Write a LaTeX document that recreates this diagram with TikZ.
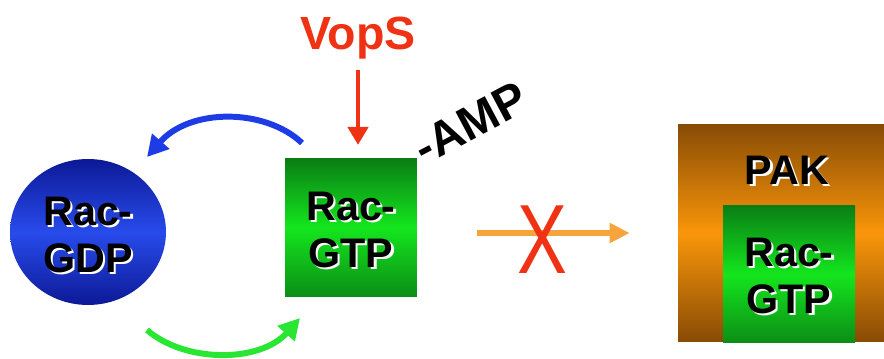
\documentclass[tikz,border=0pt]{standalone}
\usepackage{fontspec}
\setmainfont{Liberation Sans}
\usetikzlibrary{shapes.geometric,arrows.meta}
\definecolor{gdpdark}{RGB}{12,25,150}
\definecolor{gdplight}{RGB}{40,75,235}
\definecolor{gtpdark}{RGB}{10,125,20}
\definecolor{gtplight}{RGB}{20,230,30}
\definecolor{pakdark}{RGB}{135,75,5}
\definecolor{paklight}{RGB}{250,150,10}
\definecolor{arcblue}{RGB}{30,60,230}
\definecolor{arcgreen}{RGB}{40,230,50}
\definecolor{vopsred}{RGB}{240,50,20}
\definecolor{blockorange}{RGB}{245,165,60}
% white drop shadow behind a line of text
\newcommand{\shd}[1]{\makebox[0pt][l]{\kern1.3pt\raisebox{-1.3pt}{\color{white}#1}}#1}
\begin{document}
\begin{tikzpicture}[x=0.02cm,y=0.02cm,
  lbl/.style={font=\fontsize{23.5}{26.5}\selectfont\bfseries, align=center, text=black, inner sep=0pt},
  gtpbox/.style={rectangle, inner sep=0pt, minimum width=2.64cm, minimum height=2.77cm,
    shading=axis, top color=gtpdark, bottom color=gtpdark!85!gtplight, middle color=gtplight},
  cyclearc/.style={line width=3.4pt, -{Triangle[length=0.42cm,width=0.44cm]}},
  blockarrow/.style={line width=3.4pt, -{Triangle[length=0.4cm,width=0.38cm]}}]
\useasboundingbox (0,0) rectangle (884,358);
% Rac-GDP and Rac-GTP
\node[ellipse, inner sep=0pt, minimum width=3.12cm, minimum height=2.92cm,
  shading=axis, top color=gdpdark, bottom color=gdpdark, middle color=gdplight] (gdp) at (88,126) {};
\node[lbl] at (88,122) {\shd{Rac-}\\\shd{GDP}};
\node[gtpbox] (gtp) at (351,130.5) {};
\node[lbl] at (351,127) {\shd{Rac-}\\\shd{GTP}};
% PAK with bound Rac-GTP
\node[rectangle, inner sep=0pt, minimum width=4.12cm, minimum height=4.36cm,
  shading=axis, top color=pakdark, bottom color=pakdark, middle color=paklight] (pak) at (781,125) {};
\node[gtpbox, minimum height=2.76cm] (pakgtp) at (789,84) {};
\node[lbl] at (789,81) {\shd{Rac-}\\\shd{GTP}};
\node[lbl] (paklbl) at (787,187) {\shd{PAK}};
% VopS and AMP
\node[lbl, font=\fontsize{26.5}{28}\selectfont\bfseries, text=vopsred, anchor=base] (vops) at (358,308) {VopS};
\node[lbl, font=\fontsize{27}{28}\selectfont\bfseries, rotate=28, anchor=base west] (amp) at (424,192) {-AMP};
\draw[vopsred, line width=2.8pt, -{Triangle[length=0.36cm,width=0.4cm]}, shorten <=0.2cm, shorten >=0.26cm]
  (vops.south) -- (vops.south |- gtp.north);
% GDP/GTP cycle
\coordinate (b1) at (302,215);
\coordinate (b2) at (147,201);
\coordinate (g1) at (147,28);
\coordinate (g2) at (300,40);
\draw[cyclearc, arcblue] (b1) .. controls (265,250) and (190,250) .. (b2);
\draw[cyclearc, arcgreen] (g1) .. controls (185,-5) and (260,-5) .. (g2);
% blocked signal to PAK
\draw[blockarrow, blockorange, shorten <=1.2cm, shorten >=0.96cm] (gtp.east |- pak.west) -- (pak.west);
\node[text=vopsred, font=\fontsize{56}{56}\selectfont, xscale=0.76, inner sep=0pt] (nox) at (542,118) {X};
\end{tikzpicture}
\end{document}
